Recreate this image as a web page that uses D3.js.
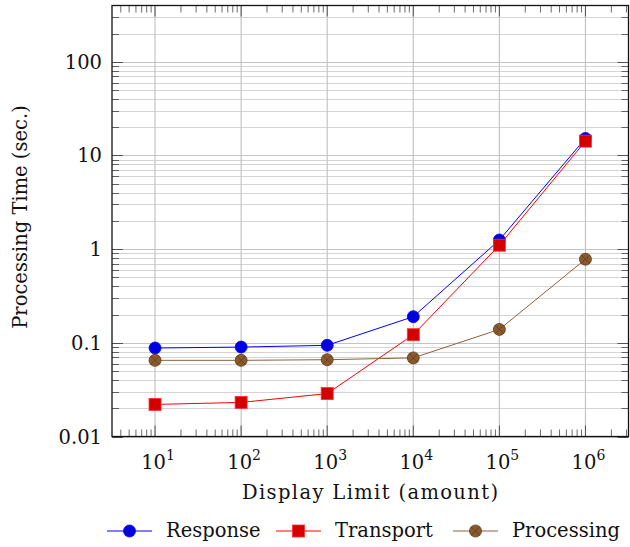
<!DOCTYPE html>
<html>
<head>
<meta charset="utf-8">
<script src="https://cdn.jsdelivr.net/npm/d3@7"></script>
<style>
  body { margin: 0; background: #fff; }
  text { font-family: "DejaVu Serif", "Liberation Serif", serif; fill: #111; }
</style>
</head>
<body>
<div id="chart"></div>
<script>
/* data */
var limits = [10, 100, 1000, 10000, 100000, 1000000];
var response = [0.088, 0.090, 0.094, 0.19, 1.25, 15.2];
var transport = [0.022, 0.0231, 0.0287, 0.122, 1.1, 14.2];
var processing = [0.065, 0.065, 0.066, 0.069, 0.139, 0.78];
var seriesNames = ["Response", "Transport", "Processing"];
var yTickValues = [0.01, 0.1, 1, 10, 100];
var yTickLabels = ["0.01", "0.1", "1", "10", "100"];
var xExponents = [1, 2, 3, 4, 5, 6];

var width = 630, height = 547;
var margin = {left: 112, right: 1.5, top: 5.5, bottom: 110.5};
var innerW = width - margin.left - margin.right;
var innerH = height - margin.top - margin.bottom;
var fs = "19.5px";

var svg = d3.select("#chart").append("svg")
  .attr("width", width).attr("height", height);

var x = d3.scaleLog().domain([Math.pow(10, 0.5), Math.pow(10, 6.5)]).range([margin.left, margin.left + innerW]);
var y = d3.scaleLog().domain([0.01, Math.pow(10, 2.6)]).range([margin.top + innerH, margin.top]);

var x0 = margin.left, x1 = margin.left + innerW, y0 = margin.top + innerH, y1 = margin.top;

// minor values
var yMinor = [], xMinor = [];
for (var e = -2; e <= 2; e++) {
  for (var m = 2; m <= 9; m++) {
    var v = m * Math.pow(10, e);
    if (v <= y.domain()[1]) yMinor.push(v);
  }
}
for (var e2 = 0; e2 <= 6; e2++) {
  for (var m2 = 2; m2 <= 9; m2++) {
    var v2 = m2 * Math.pow(10, e2);
    if (v2 >= x.domain()[0] && v2 <= x.domain()[1]) xMinor.push(v2);
  }
}

var grid = svg.append("g");
grid.selectAll("line.ymin").data(yMinor).enter().append("line")
  .attr("x1", x0).attr("x2", x1)
  .attr("y1", function(d) { return Math.round(y(d)) + 0.5; })
  .attr("y2", function(d) { return Math.round(y(d)) + 0.5; })
  .attr("stroke", "#d4d4d4").attr("stroke-width", 1);
grid.selectAll("line.ymaj").data(yTickValues).enter().append("line")
  .attr("x1", x0).attr("x2", x1)
  .attr("y1", function(d) { return Math.round(y(d)) + 0.5; })
  .attr("y2", function(d) { return Math.round(y(d)) + 0.5; })
  .attr("stroke", "#c4c4c4").attr("stroke-width", 1.2);
grid.selectAll("line.xmaj").data(xExponents).enter().append("line")
  .attr("y1", y0).attr("y2", y1)
  .attr("x1", function(d) { return x(Math.pow(10, d)); })
  .attr("x2", function(d) { return x(Math.pow(10, d)); })
  .attr("stroke", "#c4c4c4").attr("stroke-width", 1.2);

// ticks (inside, on all four sides)
var ticks = svg.append("g").attr("stroke", "#444");
xMinor.forEach(function(d) {
  var px = x(d);
  ticks.append("line").attr("x1", px).attr("x2", px).attr("y1", y0).attr("y2", y0 - 7).attr("stroke-width", 0.8);
  ticks.append("line").attr("x1", px).attr("x2", px).attr("y1", y1).attr("y2", y1 + 7).attr("stroke-width", 0.8);
});
xExponents.forEach(function(d) {
  var px = x(Math.pow(10, d));
  ticks.append("line").attr("x1", px).attr("x2", px).attr("y1", y0).attr("y2", y0 - 11).attr("stroke-width", 0.9);
  ticks.append("line").attr("x1", px).attr("x2", px).attr("y1", y1).attr("y2", y1 + 11).attr("stroke-width", 0.9);
});
yMinor.forEach(function(d) {
  var py = Math.round(y(d)) + 0.5;
  ticks.append("line").attr("x1", x0).attr("x2", x0 + 7).attr("y1", py).attr("y2", py).attr("stroke-width", 0.8);
  ticks.append("line").attr("x1", x1).attr("x2", x1 - 7).attr("y1", py).attr("y2", py).attr("stroke-width", 0.8);
});
yTickValues.forEach(function(d) {
  var py = Math.round(y(d)) + 0.5;
  ticks.append("line").attr("x1", x0).attr("x2", x0 + 11).attr("y1", py).attr("y2", py).attr("stroke-width", 0.9);
  ticks.append("line").attr("x1", x1).attr("x2", x1 - 11).attr("y1", py).attr("y2", py).attr("stroke-width", 0.9);
});

// frame
svg.append("rect").attr("x", x0).attr("y", y1).attr("width", innerW).attr("height", innerH)
  .attr("fill", "none").attr("stroke", "#111").attr("stroke-width", 1.3);

// tick labels
svg.selectAll("text.ylab").data(yTickValues).enter().append("text")
  .attr("x", 102).attr("y", function(d) { return y(d); }).attr("dy", "0.36em")
  .attr("text-anchor", "end").style("font-size", fs)
  .text(function(d, i) { return yTickLabels[i]; });

var xl = svg.selectAll("text.xlab").data(xExponents).enter().append("text")
  .attr("x", function(d) { return x(Math.pow(10, d)) + 3; }).attr("y", 469)
  .attr("text-anchor", "middle").style("font-size", fs);
xl.append("tspan").text("10");
xl.append("tspan").attr("dy", -9).style("font-size", "14px").text(function(d) { return d; });

// axis titles
svg.append("text").attr("x", 242).attr("y", 499)
  .attr("textLength", 256).attr("lengthAdjust", "spacing")
  .style("font-size", fs).text("Display Limit (amount)");
svg.append("text").attr("transform", "translate(27,217) rotate(-90)")
  .attr("text-anchor", "middle").style("font-size", fs).text("Processing Time (sec.)");

// series
var series = [
  {name: seriesNames[0], values: response, line: "#0000ff", fill: "#0000e0", stroke: "#0000ff", mark: "circle"},
  {name: seriesNames[1], values: transport, line: "#ff0000", fill: "#d40000", stroke: "#ff3030", mark: "square"},
  {name: seriesNames[2], values: processing, line: "#8c6239", fill: "#8a5a2c", stroke: "#5e3c1c", mark: "otimes"}
];

var line = d3.line()
  .x(function(d, i) { return x(limits[i]); })
  .y(function(d) { return y(d); });

function drawMark(g, type, s, cx, cy) {
  if (type === "circle") {
    g.append("circle").attr("cx", cx).attr("cy", cy).attr("r", 6)
      .attr("fill", s.fill).attr("stroke", s.stroke).attr("stroke-width", 0.8);
  } else if (type === "square") {
    g.append("rect").attr("x", cx - 6).attr("y", cy - 6).attr("width", 12).attr("height", 12)
      .attr("fill", s.fill).attr("stroke", s.stroke).attr("stroke-width", 0.8);
  } else {
    g.append("circle").attr("cx", cx).attr("cy", cy).attr("r", 6)
      .attr("fill", s.fill).attr("stroke", s.stroke).attr("stroke-width", 0.8);
    var k = 6 / Math.SQRT2;
    g.append("path").attr("d", "M" + (cx - k) + "," + (cy - k) + "L" + (cx + k) + "," + (cy + k) +
      "M" + (cx - k) + "," + (cy + k) + "L" + (cx + k) + "," + (cy - k))
      .attr("stroke", s.stroke).attr("stroke-width", 0.8);
  }
}

var plot = svg.append("g");
series.forEach(function(s) {
  plot.append("path").datum(s.values).attr("d", line)
    .attr("fill", "none").attr("stroke", s.line).attr("stroke-width", 1);
});
series.forEach(function(s) {
  var g = plot.append("g");
  s.values.forEach(function(v, i) { drawMark(g, s.mark, s, x(limits[i]), y(v)); });
});

// legend
var legendX = [107, 276, 453];
var ly = 531;
series.forEach(function(s, i) {
  var g = svg.append("g");
  g.append("line").attr("x1", legendX[i]).attr("x2", legendX[i] + 45).attr("y1", ly).attr("y2", ly)
    .attr("stroke", s.line).attr("stroke-width", 1);
  drawMark(g, s.mark, s, legendX[i] + 22.5, ly);
  g.append("text").attr("x", legendX[i] + 59).attr("y", 537)
    .style("font-size", fs).text(s.name);
});
</script>
</body>
</html>
